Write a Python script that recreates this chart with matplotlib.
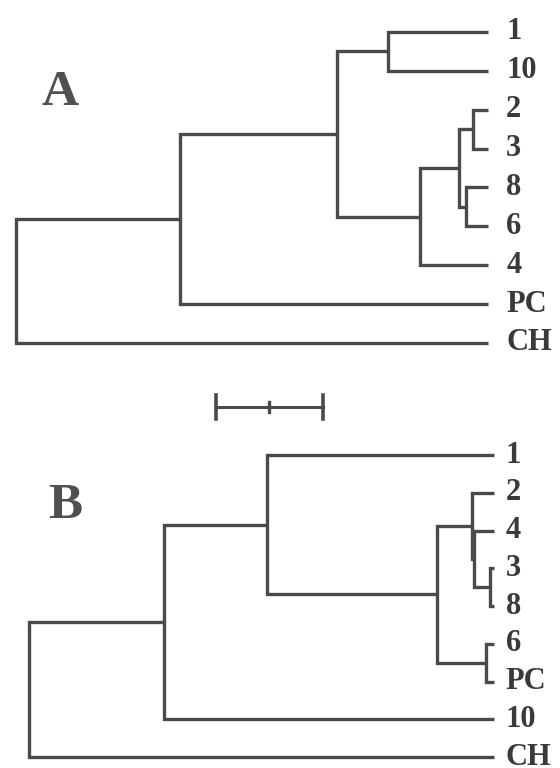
import matplotlib
matplotlib.use("Agg")
import matplotlib.pyplot as plt

# leaf order (top to bottom) and merges for each tree
# each merge joins two nodes at a given distance; merge k is named "m<k>"
leaves_a = ["1", "10", "2", "3", "8", "6", "4", "PC", "CH"]
left_a = ["2", "8", "1", "m0", "m3", "m2", "m5", "m6"]
right_a = ["3", "6", "10", "m1", "4", "m4", "PC", "CH"]
height_a = [0.014, 0.021, 0.093, 0.027, 0.064, 0.141, 0.288, 0.441]

leaves_b = ["1", "2", "4", "3", "8", "6", "PC", "10", "CH"]
left_b = ["3", "6", "4", "2", "m3", "1", "m5", "m6"]
right_b = ["8", "PC", "m0", "m2", "m1", "m4", "10", "CH"]
height_b = [0.004, 0.007, 0.019, 0.021, 0.053, 0.212, 0.308, 0.435]

scale_len = 0.1

line_col = "#4a4a4a"
text_col = "#3a3a3a"
serif = ["Liberation Serif", "DejaVu Serif"]


def draw_tree(ax, leaves, left, right, heights, label_gap):
    pos = {name: (0.0, i) for i, name in enumerate(leaves)}
    for k, (a, b, h) in enumerate(zip(left, right, heights)):
        xa, ya = pos[a]
        xb, yb = pos[b]
        ax.plot([xa, h, h, xb], [ya, ya, yb, yb], color=line_col, lw=2.4,
                solid_joinstyle="miter", solid_capstyle="butt", clip_on=False)
        pos["m%d" % k] = (h, (ya + yb) / 2)
    for i, name in enumerate(leaves):
        ax.text(-label_gap, i, name, ha="left", va="center", fontsize=22,
                fontweight="bold", color=text_col, family=serif)


fig = plt.figure(figsize=(5.6, 7.68), dpi=100)
fig.patch.set_facecolor("white")

# top tree
ax_a = fig.add_axes([0, 0.5, 1, 0.5])
draw_tree(ax_a, leaves_a, left_a, right_a, height_a, label_gap=0.017)
ax_a.set_xlim(0.4561, -0.0673)
ax_a.set_ylim(9.055, -0.823)
ax_a.text(0.400, 1.88, "A", ha="center", va="baseline", fontsize=37,
          fontweight="bold", color="#505050", family=serif)
ax_a.axis("off")

# bottom tree
ax_b = fig.add_axes([0, 0, 1, 0.5])
draw_tree(ax_b, leaves_b, left_b, right_b, height_b, label_gap=0.011)
ax_b.set_xlim(0.4617, -0.0617)
ax_b.set_ylim(8.291, -1.881)
ax_b.text(0.401, 1.67, "B", ha="center", va="baseline", fontsize=37,
          fontweight="bold", color="#505050", family=serif)

# scale bar
sb_x0, sb_y = 0.16, -1.27
ax_b.plot([sb_x0, sb_x0 + scale_len], [sb_y, sb_y], color=line_col, lw=2.2, clip_on=False)
for x in [sb_x0, sb_x0 + scale_len]:
    ax_b.plot([x, x], [sb_y - 0.32, sb_y + 0.32], color=line_col, lw=2.6, clip_on=False)
ax_b.plot([sb_x0 + scale_len / 2] * 2, [sb_y - 0.13, sb_y + 0.13], color=line_col,
          lw=2.4, clip_on=False)
ax_b.axis("off")

fig.savefig("out.png", dpi=100, facecolor="white")
